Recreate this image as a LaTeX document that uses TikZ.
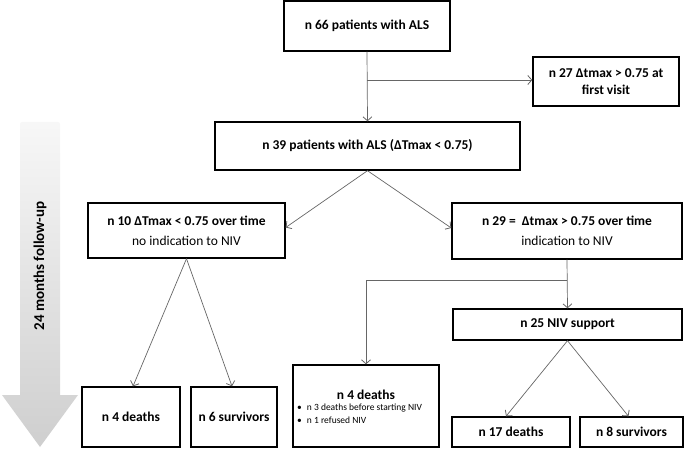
\documentclass[tikz,border=0pt]{standalone}
\usepackage{fontspec}
\setmainfont{Carlito}
\usetikzlibrary{arrows.meta,calc}
\definecolor{conn}{HTML}{666666}
\begin{document}
\begin{tikzpicture}[x=1pt,y=-1pt,
  box/.style={draw=black,line width=1.4pt,fill=white,inner sep=0pt,align=center,
    font=\fontsize{13.5}{20}\selectfont\bfseries},
  conn/.style={draw=conn,line width=0.7pt},
  arr/.style={conn,-{Straight Barb[length=4pt,width=9pt,line width=0.8pt]}}]
\useasboundingbox (0,0) rectangle (685,449);
% follow-up arrow
\path[top color=gray!6,bottom color=gray!38,draw=none]
  (20,124) [rounded corners=2pt] -- (20,122) -- (60,122) [sharp corners] -- (60,395) -- (78,395) -- (40,447) -- (2,395) -- (20,395) -- cycle;
\node[rotate=90,font=\fontsize{15}{17}\selectfont\bfseries] (fu) at (40,266) {24 months follow-up};
% boxes
\node[box,minimum width=166pt,minimum height=50pt] (b66) at (367,26) {n 66 patients with ALS};
\node[box,minimum width=146pt,minimum height=49pt,font=\fontsize{13.5}{17}\selectfont\bfseries] (b27) at (606,81.5) {n 27 Δtmax > 0.75 at\\first visit};
\node[box,minimum width=305pt,minimum height=48pt] (b39) at (367.5,146) {n 39 patients with ALS (ΔTmax < 0.75)};
\node[box,minimum width=197pt,minimum height=55pt] (b10) at (186.5,230.5) {n 10 ΔTmax < 0.75 over time\\\mdseries no indication to NIV};
\node[box,minimum width=230pt,minimum height=56pt] (b29) at (567,231) {n 29 =\ \ Δtmax > 0.75 over time\\\mdseries indication to NIV};
\node[box,minimum width=98pt,minimum height=60pt] (b4l) at (131,417) {n 4 deaths};
\node[box,minimum width=86pt,minimum height=60pt] (b6) at (234,417) {n 6 survivors};
\node[box,minimum width=146pt,minimum height=82pt] (b4m) at (366,406) {};
\node[font=\fontsize{13.5}{15}\selectfont\bfseries,inner sep=0pt] (b4mt) at (366,395) {n 4 deaths};
\node[anchor=north west,inner sep=0pt,align=left,font=\fontsize{9.5}{12.5}\selectfont] (b4mb) at (297,404)
  {\textbullet\hspace{5pt}n 3 deaths before starting NIV\\\textbullet\hspace{5pt}n 1 refused NIV};
\node[box,minimum width=229pt,minimum height=31pt] (b25) at (567.5,324.5) {n 25 NIV support};
\node[box,minimum width=118pt,minimum height=30pt] (b17) at (511,432) {n 17 deaths};
\node[box,minimum width=103pt,minimum height=30pt] (b8) at (631.5,432) {n 8 survivors};
% connectors
\coordinate (j1) at (b66.south |- 0,80);
\draw[arr] (b66.south) -- (b39.north);
\draw[arr] (j1) -- (b27.west |- j1);
\draw[arr] (b39.south) -- ($(b10.east)+(0,-3)$);
\draw[arr] (b39.south) -- ($(b29.west)+(0,-3)$);
\draw[arr] (b10.south) -- ($(b4l.north)+(2,0)$);
\draw[arr] (b10.south) -- ($(b6.north)+(-2,0)$);
\coordinate (j2) at (b29.south |- 0,280);
\draw[arr] (b29.south) -- (b25.north);
\draw[arr] (j2) -- (b4m.north |- j2) -- (b4m.north);
\draw[arr] (b25.south) -- ($(b17.north)+(-5,0)$);
\draw[arr] (b25.south) -- ($(b8.north)+(-3,0)$);
\end{tikzpicture}
\end{document}
